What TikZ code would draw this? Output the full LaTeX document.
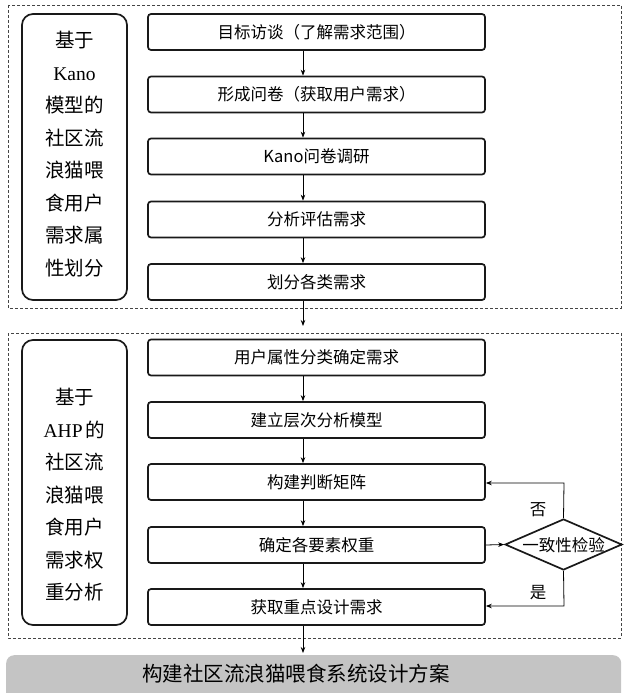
\documentclass[tikz,border=0pt]{standalone}
\usepackage{fontspec}
\setmainfont{Noto Sans CJK SC}
\newfontfamily\latinserif{Liberation Serif}
\usetikzlibrary{arrows.meta,shapes.geometric}
\definecolor{dashgray}{HTML}{454545}
\definecolor{bargray}{HTML}{C4C4C4}
\tikzset{
  stepbox/.style={draw=black!90, line width=1.7pt, rounded corners=3pt, minimum width=337pt, minimum height=36pt, inner sep=0pt, font=\fontsize{16.5}{18}\selectfont},
  sidebox/.style={draw=black!90, line width=1.7pt, rounded corners=11pt, minimum width=105pt, inner sep=0pt},
  sidetext/.style={align=center, font=\fontsize{19.5}{32.5}\selectfont, inner sep=0pt},
  groupbox/.style={draw=dashgray, dashed, dash pattern=on 3pt off 2pt, line width=0.8pt},
  conn/.style={-{Stealth[length=6pt,width=4.5pt]}, line width=0.8pt, black},
  lbl/.style={font=\fontsize{16.5}{18}\selectfont, inner sep=0pt}
}
\begin{document}
\begin{tikzpicture}[x=1pt,y=-1pt]
\useasboundingbox (0,0) rectangle (626,693);
% group boxes
\draw[groupbox] (8,5) rectangle (621,308);
\draw[groupbox] (8,333) rectangle (621,638);
% side boxes
\node[sidebox, minimum height=286pt] (s1) at (74.5,157) {};
\node[sidetext] at (74.5,154) {基于\\{\latinserif Kano}\\模型的\\社区流\\浪猫喂\\食用户\\需求属\\性划分};
\node[sidebox, minimum height=285pt] (s2) at (74.5,482.5) {};
\node[sidetext] at (74.5,495) {基于\\{\latinserif AHP}\,的\\社区流\\浪猫喂\\食用户\\需求权\\重分析};
% steps group 1
\node[stepbox] (a1) at (316.5,32) {目标访谈（了解需求范围）};
\node[stepbox] (a2) at (316.5,94.5) {形成问卷（获取用户需求）};
\node[stepbox] (a3) at (316.5,156.5) {Kano问卷调研};
\node[stepbox] (a4) at (316.5,219.5) {分析评估需求};
\node[stepbox] (a5) at (316.5,282) {划分各类需求};
% steps group 2
\node[stepbox] (b1) at (316.5,357.5) {用户属性分类确定需求};
\node[stepbox] (b2) at (316.5,420) {建立层次分析模型};
\node[stepbox] (b3) at (316.5,482) {构建判断矩阵};
\node[stepbox] (b4) at (316.5,545) {确定各要素权重};
\node[stepbox] (b5) at (316.5,607) {获取重点设计需求};
% diamond
\node[draw=black!90, line width=1.7pt, diamond, aspect=2.36, minimum width=117pt, minimum height=51pt, inner sep=0pt] (d) at (563.5,544.5) {};
\node[lbl] at (563.5,545) {一致性检验};
% bottom bar
\begin{scope}
\clip (0,0) rectangle (626,693);
\node[fill=bargray, rounded corners=8pt, minimum width=615pt, minimum height=50pt, inner sep=0pt, anchor=north west] (bar) at (6,655) {};
\end{scope}
\node[font=\fontsize{20.5}{24}\selectfont, inner sep=0pt] at (296,674) {构建社区流浪猫喂食系统设计方案};
% arrows
\coordinate (ax) at (303,0);
\foreach \u/\v in {a1/a2,a2/a3,a3/a4,a4/a5,b1/b2,b2/b3,b3/b4,b4/b5}{
  \draw[conn] (\u.south -| ax) -- (\v.north -| ax);
}
\coordinate (g2top) at (303,326);
\draw[conn] (a5.south -| ax) -- (g2top);
\coordinate (bartop) at (303,653);
\draw[conn] (b5.south -| ax) -- (bartop);
\draw[conn] (b4.east) -- (d.west);
\draw[conn] (d.north) -- (564,483) -- (b3.east |- 0,483);
\draw[conn] (d.south) -- (564,606) -- (b5.east |- 0,606);
\node[lbl] at (538,510) {否};
\node[lbl] at (538,593) {是};
\end{tikzpicture}
\end{document}
